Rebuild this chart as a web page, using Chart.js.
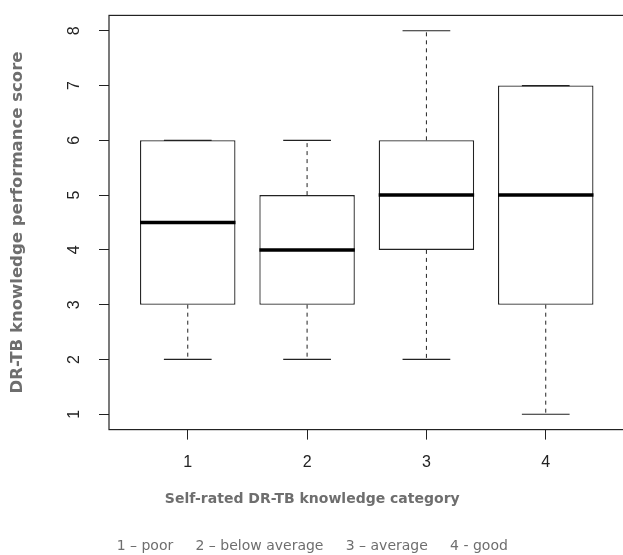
<!DOCTYPE html>
<html>
<head>
<meta charset="utf-8">
<script src="https://cdn.jsdelivr.net/npm/chart.js@4"></script>
<style>
  html, body { margin: 0; padding: 0; background: #fff; overflow: hidden; }
  canvas { display: block; }
</style>
</head>
<body>
<canvas id="boxChart" width="625" height="555"></canvas>
<script>
// categories and five-number summaries
const categories = [1, 2, 3, 4];
const mins    = [2, 2, 2, 1];
const q1s     = [3, 3, 4, 3];
const medians = [4.5, 4, 5, 5];
const q3s     = [6, 5, 6, 7];
const maxs    = [6, 6, 8, 7];
const yTicks  = [1, 2, 3, 4, 5, 6, 7, 8];
const caption = "1 \u2013 poor     2 \u2013 below average     3 \u2013 average     4 - good";

const lineColor = '#222';
const labelGrey = '#6e6e6e';

// whiskers, caps, medians and the frame, drawn through the chart's scales
const boxExtras = {
  id: 'boxExtras',
  afterDatasetsDraw(chart) {
    const ctx = chart.ctx;
    const xs = chart.scales.x, ys = chart.scales.y;
    const unit = xs.getPixelForValue(2) - xs.getPixelForValue(1);
    ctx.save();
    ctx.strokeStyle = lineColor;
    categories.forEach((c, i) => {
      const x = xs.getPixelForValue(c);
      const half = unit * 0.2;
      // dashed whiskers
      ctx.lineWidth = 1;
      ctx.setLineDash([4, 4]);
      ctx.beginPath();
      if (maxs[i] > q3s[i]) {
        ctx.moveTo(x, ys.getPixelForValue(q3s[i]));
        ctx.lineTo(x, ys.getPixelForValue(maxs[i]));
      }
      if (mins[i] < q1s[i]) {
        ctx.moveTo(x, ys.getPixelForValue(q1s[i]));
        ctx.lineTo(x, ys.getPixelForValue(mins[i]));
      }
      ctx.stroke();
      // caps
      ctx.setLineDash([]);
      ctx.lineWidth = 1.2;
      ctx.beginPath();
      [mins[i], maxs[i]].forEach(v => {
        const y = ys.getPixelForValue(v);
        ctx.moveTo(x - half, y);
        ctx.lineTo(x + half, y);
      });
      ctx.stroke();
      // median
      const bw = unit * 0.4;
      ctx.lineWidth = 3.5;
      ctx.strokeStyle = '#000';
      ctx.beginPath();
      const ym = ys.getPixelForValue(medians[i]);
      ctx.moveTo(x - bw, ym);
      ctx.lineTo(x + bw, ym);
      ctx.stroke();
      ctx.strokeStyle = lineColor;
    });
    // frame around the plot region
    const a = chart.chartArea;
    ctx.lineWidth = 1.2;
    ctx.strokeRect(a.left, a.top, a.right - a.left, a.bottom - a.top);
    ctx.restore();
  }
};

new Chart(document.getElementById('boxChart'), {
  type: 'bar',
  data: {
    datasets: [{
      data: categories.map((c, i) => ({ x: c, y: [q1s[i], q3s[i]] })),
      backgroundColor: '#fff',
      borderColor: lineColor,
      borderWidth: 1.3,
      borderSkipped: false,
      categoryPercentage: 0.8,
      barPercentage: 1
    }]
  },
  options: {
    responsive: false,
    animation: false,
    devicePixelRatio: 1,
    layout: { padding: { top: 15.4, right: 0.5, left: 0, bottom: 0 } },
    plugins: {
      legend: { display: false },
      tooltip: { enabled: false },
      // x axis title, centred on the whole figure like the original
      subtitle: {
        display: true,
        position: 'bottom',
        text: 'Self-rated DR-TB knowledge category',
        color: labelGrey,
        font: { family: 'DejaVu Sans', size: 14, weight: 'bold' },
        padding: { top: 6, bottom: 29.8 }
      },
      title: {
        display: true,
        position: 'bottom',
        text: caption,
        color: labelGrey,
        font: { family: 'DejaVu Sans', size: 14, weight: 'normal' },
        padding: { top: 1, bottom: 0 }
      }
    },
    scales: {
      x: {
        type: 'linear',
        offset: false,
        min: 0.34,
        max: 4.66,
        afterBuildTicks: s => { s.ticks = categories.map(v => ({ value: v })); },
        afterFit: s => { s.height = 55; s.paddingLeft = 0; s.paddingRight = 0; },
        grid: { offset: false, drawOnChartArea: false, drawTicks: true, tickLength: 10, color: lineColor },
        border: { display: false },
        ticks: {
          color: '#222',
          padding: 13,
          font: { family: 'Liberation Sans', size: 16 }
        }
      },
      y: {
        min: 0.72,
        max: 8.28,
        afterBuildTicks: s => { s.ticks = yTicks.map(v => ({ value: v })); },
        afterFit: s => { s.width = 109; s.paddingTop = 0; s.paddingBottom = 0; },
        grid: { drawOnChartArea: false, drawTicks: true, tickLength: 10, color: lineColor },
        border: { display: false },
        ticks: {
          color: '#222',
          padding: 20,
          minRotation: 90,
          maxRotation: 90,
          crossAlign: 'center',
          font: { family: 'Liberation Sans', size: 16 }
        },
        title: {
          display: true,
          text: 'DR-TB knowledge performance score',
          color: labelGrey,
          font: { family: 'DejaVu Sans', size: 16.5, weight: 'bold' },
          padding: { top: 8, bottom: 0 }
        }
      }
    }
  },
  plugins: [boxExtras]
});
</script>
</body>
</html>
